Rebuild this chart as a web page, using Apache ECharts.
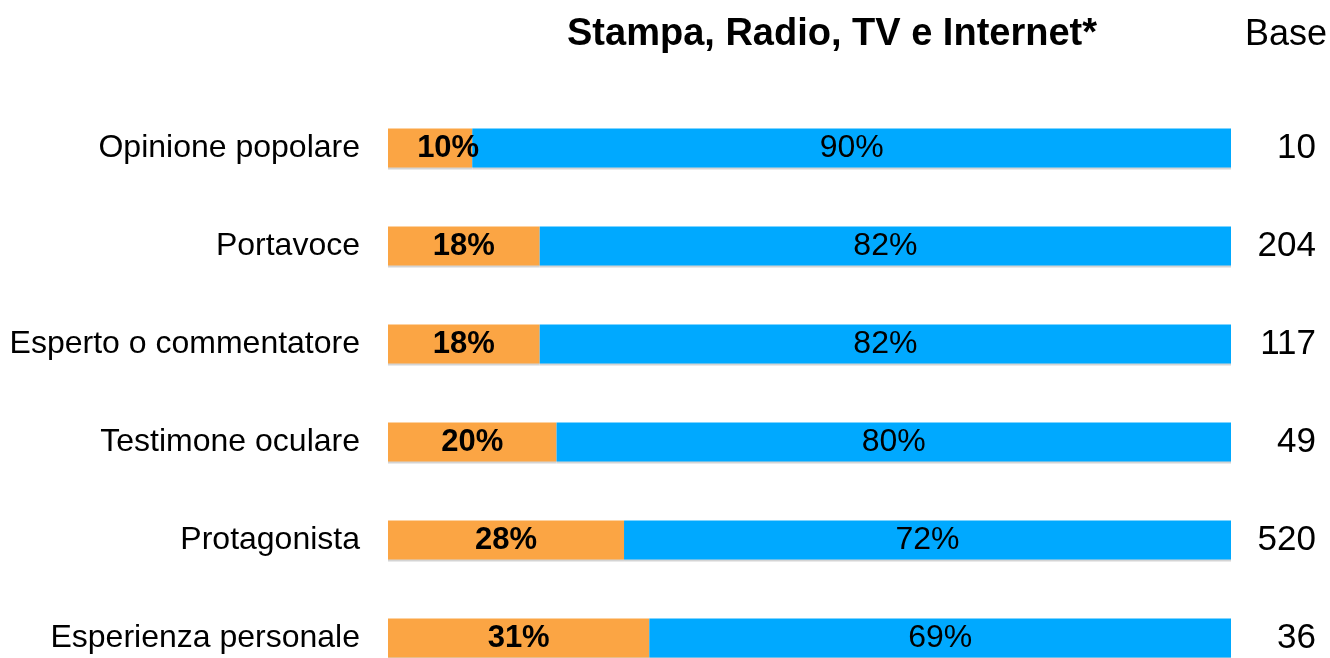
<!DOCTYPE html>
<html lang="it">
<head>
    <meta charset="UTF-8">
    <title>Stampa, Radio, TV e Internet</title>
    <style>
        body { margin: 0; padding: 0; background: #fff; }
        #chart { width: 1330px; height: 658px; }
    </style>
    <script src="https://cdn.jsdelivr.net/npm/echarts@6/dist/echarts.min.js"></script>
</head>
<body>
<div id="chart"></div>
<script>
    var categories = ['Opinione popolare', 'Portavoce', 'Esperto o commentatore',
        'Testimone oculare', 'Protagonista', 'Esperienza personale'];
    var orangeValues = [10, 18, 18, 20, 28, 31];
    var blueValues = [90, 82, 82, 80, 72, 69];
    var baseValues = ['10', '204', '117', '49', '520', '36'];

    var font = '"Liberation Sans", Arial, sans-serif';
    var chart = echarts.init(document.getElementById('chart'));

    var barShadow = {
        shadowColor: '#d4d4d4',
        shadowOffsetY: 2,
        shadowBlur: 0
    };

    var orangeData = orangeValues.map(function (v, i) {
        var item = { value: v };
        // the smallest slice has its label pushed right, as in the original
        if (i === 0) item.label = { offset: [18, 0] };
        return item;
    });

    var option = {
        animation: false,
        title: [{
            text: 'Stampa, Radio, TV e Internet*',
            left: 562,
            top: 11,
            textStyle: { fontFamily: font, fontSize: 38, fontWeight: 'bold', color: '#000' }
        }, {
            text: 'Base',
            left: 1240,
            top: 12,
            textStyle: { fontFamily: font, fontSize: 36, fontWeight: 'normal', color: '#000' }
        }],
        // the last row sits partly below the visible area, so the grid runs past the bottom edge
        grid: { left: 388, right: 99, top: 99, height: 588, outerBoundsMode: 'none', containLabel: false },
        xAxis: { type: 'value', min: 0, max: 100, show: false },
        yAxis: [{
            type: 'category',
            data: categories,
            inverse: true,
            axisLine: { show: false },
            axisTick: { show: false },
            axisLabel: { margin: 28, fontFamily: font, fontSize: 32, color: '#000' }
        }, {
            type: 'category',
            data: baseValues,
            inverse: true,
            position: 'right',
            axisLine: { show: false },
            axisTick: { show: false },
            axisLabel: { margin: 85, align: 'right', fontFamily: font, fontSize: 35, color: '#000' }
        }],
        series: [{
            type: 'bar',
            stack: 'total',
            data: orangeData,
            barWidth: 39,
            itemStyle: Object.assign({ color: '#FBA544' }, barShadow),
            label: {
                show: true,
                position: 'inside',
                formatter: '{c}%',
                fontFamily: font,
                fontSize: 31,
                fontWeight: 'bold',
                color: '#000'
            }
        }, {
            type: 'bar',
            stack: 'total',
            data: blueValues,
            barWidth: 39,
            itemStyle: Object.assign({ color: '#00A9FF' }, barShadow),
            label: {
                show: true,
                position: 'inside',
                formatter: '{c}%',
                fontFamily: font,
                fontSize: 32,
                color: '#000'
            }
        }]
    };
    chart.setOption(option);
</script>
</body>
</html>
